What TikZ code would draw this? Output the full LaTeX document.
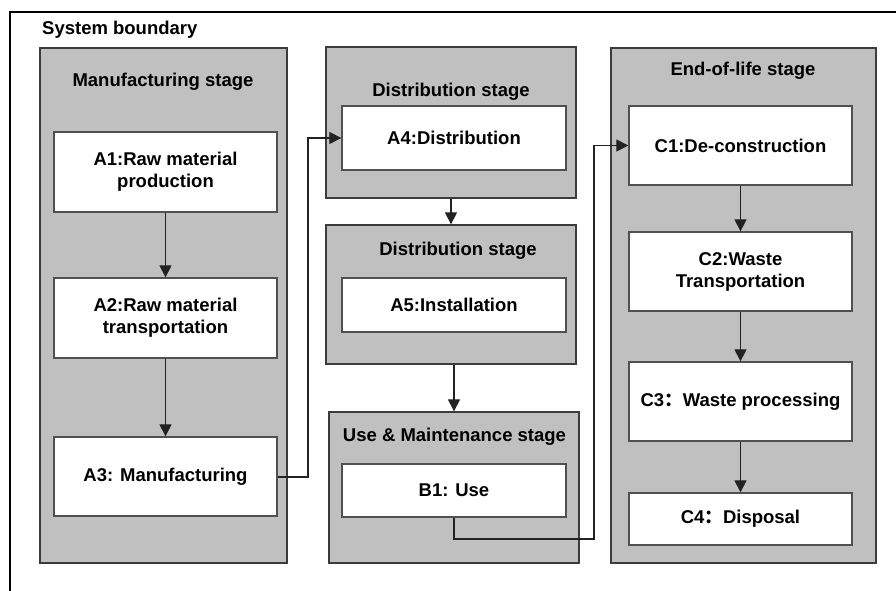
\documentclass[tikz,border=0pt]{standalone}
\usepackage{fontspec}
\setmainfont{Liberation Sans}
\newfontfamily\cjkfont{Noto Sans CJK SC}
\usetikzlibrary{arrows.meta}
\definecolor{stagegray}{HTML}{C0C0C0}
\definecolor{edgegray}{HTML}{3C3C3C}
\definecolor{boxedge}{HTML}{505050}
\definecolor{linegray}{HTML}{222222}
\tikzset{
  stagebox/.style={draw=edgegray, fill=stagegray, line width=1.3pt, inner sep=0pt},
  procbox/.style={draw=boxedge, fill=white, line width=1.3pt, inner sep=2pt, align=center,
    font=\fontsize{18.5}{22}\selectfont\bfseries},
  stagetitle/.style={inner sep=0pt, font=\fontsize{18.5}{22}\selectfont\bfseries},
  flow/.style={draw=linegray, line width=1.2pt, -{Triangle[length=12pt,width=12pt]}},
}
\begin{document}
\begin{tikzpicture}[x=1pt,y=-1pt]
\useasboundingbox (0,0) rectangle (896,590);
\clip (0,0) rectangle (896,590);
% system boundary
\draw[line width=2.6pt, black] (10,12) rectangle (930,630);
\node[stagetitle, anchor=west] (sb) at (42,30) {System boundary};

% stage boxes
\node[stagebox, minimum width=247pt, minimum height=515pt] (M) at (163.5,305.5) {};
\node[stagebox, minimum width=250pt, minimum height=151pt] (D1) at (451,122.5) {};
\node[stagebox, minimum width=250pt, minimum height=139pt] (D2) at (451,294.5) {};
\node[stagebox, minimum width=250pt, minimum height=151pt] (U) at (454,487.5) {};
\node[stagebox, minimum width=265pt, minimum height=515pt] (E) at (743.5,305.5) {};

% stage titles
\node[stagetitle] (Mt) at (163,82) {Manufacturing stage};
\node[stagetitle] (D1t) at (451,92) {Distribution stage};
\node[stagetitle] (D2t) at (458,251) {Distribution stage};
\node[stagetitle] (Ut) at (454.5,437) {Use \& Maintenance stage};
\node[stagetitle] (Et) at (743,71) {End-of-life stage};

% process boxes
\node[procbox, minimum width=223pt, minimum height=80pt] (A1) at (165.5,172) {A1:Raw material\\production};
\node[procbox, minimum width=223pt, minimum height=80pt] (A2) at (165.5,318) {A2:Raw material\\transportation};
\node[procbox, minimum width=223pt, minimum height=79pt] (A3) at (165.5,476.5) {A3: Manufacturing};
\node[procbox, minimum width=224pt, minimum height=64pt] (A4) at (454,138) {A4:Distribution};
\node[procbox, minimum width=224pt, minimum height=54pt] (A5) at (454,305) {A5:Installation};
\node[procbox, minimum width=224pt, minimum height=53pt] (B1) at (454,490.5) {B1: Use};
\node[procbox, minimum width=223pt, minimum height=79pt] (C1) at (740.5,145.5) {C1:De-construction};
\node[procbox, minimum width=223pt, minimum height=79pt] (C2) at (740.5,271.5) {C2:Waste\\Transportation};
\node[procbox, minimum width=223pt, minimum height=79pt] (C3) at (740.5,401.5) {C3{\cjkfont ：}Waste processing};
\node[procbox, minimum width=223pt, minimum height=52pt] (C4) at (740.5,519) {C4{\cjkfont ：}Disposal};

% bend points
\coordinate (k1) at (308,477);
\coordinate (k2) at (594,539);

% connectors
\draw[flow] (A1) -- (A2);
\draw[flow] (A2) -- (A3);
\draw[flow] (A3.east |- k1) -- (k1) |- (A4.west);
\draw[flow] (D1) -- (D2);
\draw[flow] (D2.south -| U.north) -- (U.north);
\draw[flow] (B1.south) |- (k2) |- (C1.west);
\draw[flow] (C1) -- (C2);
\draw[flow] (C2) -- (C3);
\draw[flow] (C3) -- (C4);
\end{tikzpicture}
\end{document}
